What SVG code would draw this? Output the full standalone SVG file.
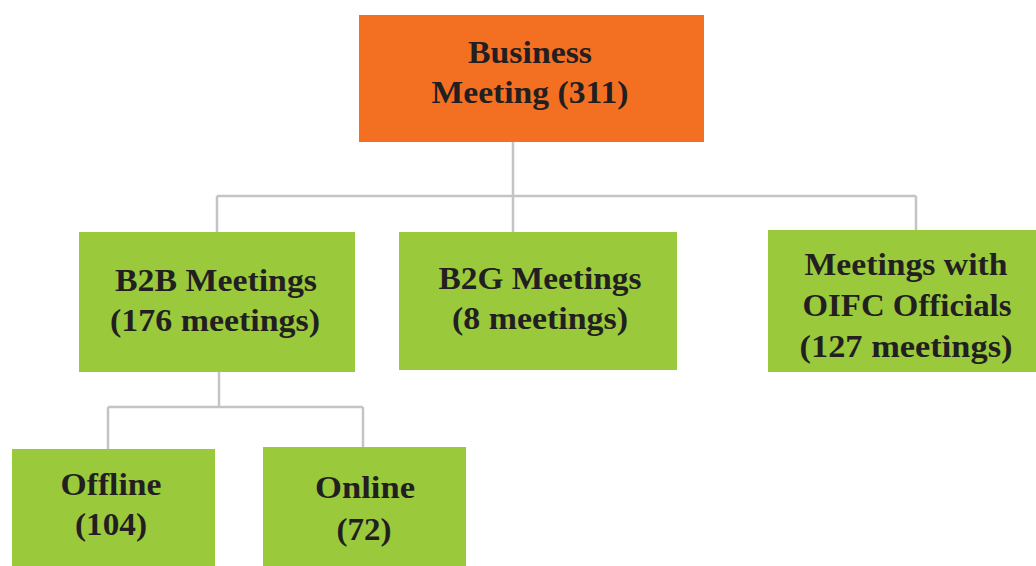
<svg xmlns="http://www.w3.org/2000/svg" width="1036" height="566" viewBox="0 0 1036 566">
<style>
.t{font-family:"Liberation Serif","Times New Roman",serif;font-weight:bold;font-size:31px;fill:#231f20;text-anchor:middle}
.g{fill:#9aca3c}
.o{fill:#f36f21}
.c{fill:none;stroke:#c4c4c8;stroke-width:2.5}
</style>
<rect width="1036" height="566" fill="#ffffff"/>
<g id="connectors">
<path class="c" d="M513,142 V196 M217,196 H916 M217,196 V232 M513,196 V232 M916,196 V230"/>
<path class="c" d="M219,372 V407 M108,407 H363 M108,407 V449 M363,407 V447"/>
</g>
<g id="business-meeting">
<rect class="o" x="359" y="15" width="345" height="127"/>
<text class="t" x="530" y="63" textLength="124" lengthAdjust="spacingAndGlyphs">Business</text>
<text class="t" x="530" y="103" textLength="197" lengthAdjust="spacingAndGlyphs">Meeting (311)</text>
</g>
<g id="b2b">
<rect class="g" x="79" y="232" width="276" height="140"/>
<text class="t" x="216" y="291" textLength="202" lengthAdjust="spacingAndGlyphs">B2B Meetings</text>
<text class="t" x="215" y="331" textLength="210" lengthAdjust="spacingAndGlyphs">(176 meetings)</text>
</g>
<g id="b2g">
<rect class="g" x="399" y="232" width="278" height="138"/>
<text class="t" x="540" y="289" textLength="203" lengthAdjust="spacingAndGlyphs">B2G Meetings</text>
<text class="t" x="540" y="329" textLength="176" lengthAdjust="spacingAndGlyphs">(8 meetings)</text>
</g>
<g id="oifc">
<rect class="g" x="768" y="230" width="268" height="142"/>
<text class="t" x="906" y="275" textLength="203" lengthAdjust="spacingAndGlyphs">Meetings with</text>
<text class="t" x="907" y="316" textLength="209" lengthAdjust="spacingAndGlyphs">OIFC Officials</text>
<text class="t" x="906" y="357" textLength="213" lengthAdjust="spacingAndGlyphs">(127 meetings)</text>
</g>
<g id="offline">
<rect class="g" x="12" y="449" width="203" height="117"/>
<text class="t" x="111" y="495" textLength="101" lengthAdjust="spacingAndGlyphs">Offline</text>
<text class="t" x="111" y="535" textLength="72" lengthAdjust="spacingAndGlyphs">(104)</text>
</g>
<g id="online">
<rect class="g" x="263" y="447" width="203" height="119"/>
<text class="t" x="365" y="498" textLength="100" lengthAdjust="spacingAndGlyphs">Online</text>
<text class="t" x="364" y="540" textLength="55" lengthAdjust="spacingAndGlyphs">(72)</text>
</g>
</svg>
